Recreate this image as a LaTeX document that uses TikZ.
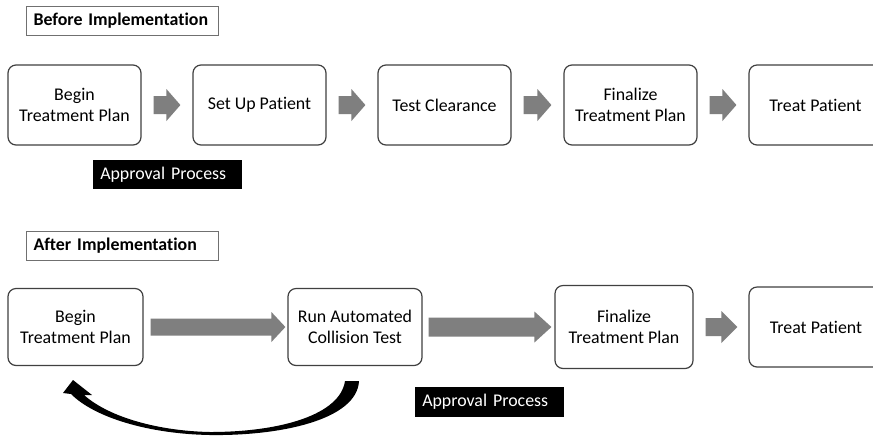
\documentclass[tikz,border=0pt]{standalone}
\usepackage{fontspec}
\setmainfont{Carlito}[Ligatures=NoCommon]
\usetikzlibrary{calc}
\definecolor{arrowgray}{HTML}{7F7F7F}
\definecolor{boxline}{HTML}{404040}
\definecolor{hdrline}{HTML}{707070}
% block arrow: #1 start, #2 tip, #3 shaft half-height, #4 head half-height, #5 head length
\newcommand\blkarr[5]{%
  \fill[arrowgray] ($(#1)+(0,-#3)$) -- ($(#2)+(-#5,-#3)$) -- ($(#2)+(-#5,-#4)$) -- (#2)
    -- ($(#2)+(-#5,#4)$) -- ($(#2)+(-#5,#3)$) -- ($(#1)+(0,#3)$) -- cycle;}
\begin{document}
\begin{tikzpicture}[x=0.75pt,y=-0.75pt,
  txt/.style={font=\fontsize{13.4}{15.4}\selectfont},
  stepbox/.style={txt, draw=boxline, line width=0.9pt, rounded corners=6pt, align=center,
    minimum width=99.75pt, minimum height=60pt, inner sep=0pt},
  hdr/.style={draw=hdrline, line width=0.75pt, font=\bfseries\fontsize{13.4}{15.4}\selectfont,
    text width=133.5pt, align=left, inner xsep=5.25pt, inner ysep=0pt, minimum height=21.75pt, anchor=west},
  appr/.style={txt, fill=black, text=white, text width=101.25pt, align=left, inner xsep=5.25pt,
    inner ysep=0pt, minimum height=22pt, anchor=west}]
\clip (0,0) rectangle (873,437);
\fill[white] (0,0) rectangle (873,437);

% ---------- Before ----------
\node[hdr] (h1) at (26,20.5) {Before Implementation};
\node[stepbox] (b1) at (74.5,105) {Begin\\Treatment Plan};
\node[stepbox] (b2) at (259.5,105) {Set Up Patient};
\node[stepbox] (b3) at (444.5,105) {Test Clearance};
\node[stepbox] (b4) at (630.5,105) {Finalize\\Treatment Plan};
\node[stepbox] (b5) at (815.5,105) {Treat Patient};
\node[appr] (a1) at (93,174.5) {Approval Process};

\coordinate (s1) at ($(b1.east)+(12,0)$); \coordinate (e1) at ($(b2.west)+(-12,0)$);
\coordinate (s2) at ($(b2.east)+(12,0)$); \coordinate (e2) at ($(b3.west)+(-12,0)$);
\coordinate (s3) at ($(b3.east)+(12,0)$); \coordinate (e3) at ($(b4.west)+(-12,0)$);
\coordinate (s4) at ($(b4.east)+(12,0)$); \coordinate (e4) at ($(b5.west)+(-12,0)$);
\blkarr{s1}{e1}{9}{16}{14}
\blkarr{s2}{e2}{9}{16}{14}
\blkarr{s3}{e3}{9}{16}{14}
\blkarr{s4}{e4}{9}{16}{14}

% ---------- After ----------
\node[hdr] (h2) at (26,246) {After Implementation};
\node[stepbox, minimum width=101.25pt, minimum height=57.75pt] (c1) at (75.5,327) {Begin\\Treatment Plan};
\node[stepbox, minimum width=100.5pt, minimum height=57.75pt] (c2) at (355,327) {Run Automated\\Collision Test};
\node[stepbox, minimum width=103.5pt, minimum height=62.25pt] (c3) at (624,327) {Finalize\\Treatment Plan};
\node[stepbox, minimum width=100.5pt, minimum height=60pt] (c4) at (816,327) {Treat Patient};
\node[appr] (a2) at (415,402) {Approval Process};

\coordinate (t1) at ($(c1.east)+(7,0)$);  \coordinate (u1) at ($(c2.west)+(-2,0)$);
\coordinate (t2) at ($(c2.east)+(6,0)$);  \coordinate (u2) at ($(c3.west)+(-3,0)$);
\coordinate (t3) at ($(c3.east)+(12,0)$); \coordinate (u3) at ($(c4.west)+(-11,0)$);
\blkarr{t1}{u1}{8.5}{15}{14}
\blkarr{t2}{u2}{9.5}{15.5}{17}
\blkarr{t3}{u3}{9}{16}{16}

% curved return arrow from c2 back to c1
\fill[black] (359,381) .. controls (357,420) and (280,436) .. (210,435)
  .. controls (150,434) and (95,418) .. (71,394)
  -- (63,393) -- (73,380) -- (92,395) -- (84,395)
  .. controls (110,418) and (160,431) .. (210,432)
  .. controls (280,432) and (340,415) .. (345,381) -- cycle;
\end{tikzpicture}
\end{document}
